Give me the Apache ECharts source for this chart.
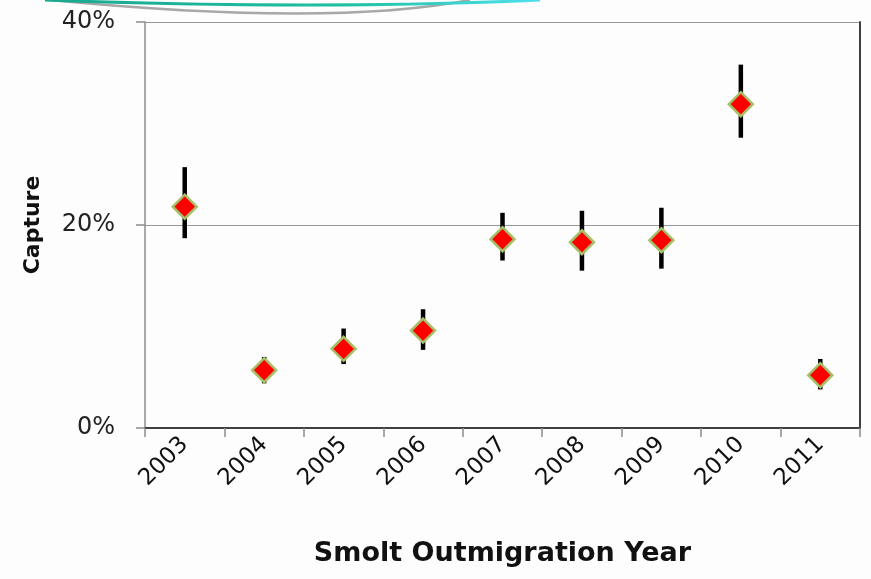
<!DOCTYPE html>
<html>
<head>
<meta charset="utf-8">
<script src="https://cdn.jsdelivr.net/npm/echarts@6/dist/echarts.min.js"></script>
<style>html,body{margin:0;padding:0;background:#fdfdfd;}#c{width:871px;height:579px;}</style>
</head>
<body>
<div id="c"></div>
<script>
const years = ['2003','2004','2005','2006','2007','2008','2009','2010','2011'];
const capture = [21.8, 5.7, 7.8, 9.6, 18.6, 18.3, 18.5, 31.9, 5.2];
const lower = [18.7, 4.4, 6.3, 7.7, 16.5, 15.5, 15.7, 28.6, 3.8];
const upper = [25.7, 7.0, 9.8, 11.7, 21.2, 21.4, 21.7, 35.8, 6.8];
const yTicks = [0, 20, 40];

const font = 'DejaVu Sans';
const chart = echarts.init(document.getElementById('c'));
chart.setOption({
  backgroundColor: '#fdfdfd',
  animation: false,
  graphic: [
    { type: 'bezierCurve', shape: { x1: 50, y1: 0, cpx1: 330, cpy1: 27, x2: 470, y2: 0 },
      style: { stroke: '#a8a8a8', lineWidth: 2.5, fill: null } },
    { type: 'bezierCurve', shape: { x1: 45, y1: 0, cpx1: 320, cpy1: 10, x2: 540, y2: 0 },
      style: { stroke: new echarts.graphic.LinearGradient(0, 0, 1, 0, [
        { offset: 0, color: '#1aa88e' }, { offset: 0.6, color: '#1ec0a0' }, { offset: 1, color: '#4fe0f0' }]),
        lineWidth: 3, fill: null } }
  ],
  grid: { left: 145, right: 11, top: 22, bottom: 151, containLabel: false },
  xAxis: [{
    type: 'category', data: years, position: 'bottom',
    name: 'Smolt Outmigration Year', nameLocation: 'middle', nameGap: 112,
    nameTextStyle: { fontFamily: font, fontSize: 27, fontWeight: 'bold', color: '#111' },
    axisLine: { show: true, lineStyle: { color: '#8c8c8c', width: 2 } },
    axisTick: { show: true, length: 9, lineStyle: { color: '#8c8c8c', width: 1.5 } },
    axisLabel: { rotate: 45, fontFamily: font, fontSize: 23, color: '#111', margin: 13, interval: 0 },
    splitLine: { show: false }
  }, {
    type: 'category', data: years, position: 'top',
    axisLine: { show: true, lineStyle: { color: '#404040', width: 2 } },
    axisTick: { show: false }, axisLabel: { show: false }
  }],
  yAxis: [{
    type: 'value', min: 0, max: 40, interval: 20, position: 'left',
    name: 'Capture', nameLocation: 'middle', nameGap: 101, nameRotate: 90,
    nameTextStyle: { fontFamily: font, fontSize: 22, fontWeight: 'bold', color: '#111' },
    axisLine: { show: true, lineStyle: { color: '#8c8c8c', width: 1.5 } },
    axisTick: { show: true, length: 9, lineStyle: { color: '#8c8c8c', width: 1.5 } },
    axisLabel: { fontFamily: font, fontSize: 24, color: '#222', margin: 30,
      formatter: v => yTicks.includes(v) ? v + '%' : '' },
    splitLine: { show: true, lineStyle: { color: '#999', width: 1.2 } }
  }, {
    type: 'value', min: 0, max: 40, interval: 20, position: 'right',
    axisLine: { show: true, lineStyle: { color: '#404040', width: 2 } },
    axisTick: { show: false }, axisLabel: { show: false }, splitLine: { show: false }
  }],
  series: [{
    type: 'custom',
    data: years.map((y, i) => [i, lower[i], upper[i]]),
    encode: { x: 0, y: [1, 2] },
    renderItem: (params, api) => {
      const x = api.value(0);
      const lo = api.coord([x, api.value(1)]);
      const hi = api.coord([x, api.value(2)]);
      return { type: 'line', shape: { x1: lo[0], y1: lo[1], x2: hi[0], y2: hi[1] },
        style: { stroke: '#000', lineWidth: 4.5 } };
    },
    z: 2
  }, {
    type: 'scatter',
    data: years.map((y, i) => [i, capture[i]]),
    symbol: 'diamond', symbolSize: [24, 24],
    itemStyle: { color: '#ff0000', borderColor: '#a4c068', borderWidth: 2.5, opacity: 1 },
    z: 3
  }]
});
</script>
</body>
</html>
